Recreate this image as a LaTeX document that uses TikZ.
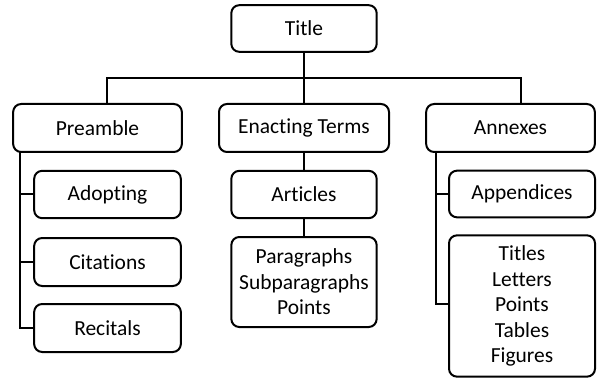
\documentclass[tikz,border=0pt]{standalone}
\usepackage{fontspec}
\setmainfont{Carlito}[Ligatures={NoCommon}]
\tikzset{
  box/.style={draw, line width=1.5pt, rounded corners=6pt, align=center,
    inner sep=0pt, font=\fontsize{16.1pt}{19.2pt}\selectfont},
  link/.style={line width=1.5pt}
}
\begin{document}
\begin{tikzpicture}[x=0.75pt, y=-0.75pt]
\useasboundingbox (0,0) rectangle (597,378);

% top level
\node[box, minimum width=109pt, minimum height=35pt] (title) at (304,28.5) {Title};

% second level
\node[box, minimum width=126.5pt, minimum height=36pt] (preamble) at (97.5,128) {Preamble};
\node[box, minimum width=127.5pt, minimum height=36pt] (enacting) at (304,128) {Enacting Terms};
\node[box, minimum width=126.5pt, minimum height=36pt] (annexes) at (510.5,128) {Annexes};

% preamble parts
\node[box, minimum width=110pt, minimum height=35.5pt] (adopting) at (107.5,194.5) {Adopting};
\node[box, minimum width=110pt, minimum height=36pt] (citations) at (107.5,262) {Citations};
\node[box, minimum width=110pt, minimum height=36pt] (recitals) at (107.5,328) {Recitals};

% enacting terms parts
\node[box, minimum width=109pt, minimum height=35.5pt] (articles) at (304,194.5) {Articles};
\node[box, minimum width=109pt, minimum height=67.5pt] (paragraphs) at (304,282)
  {Paragraphs\\Subparagraphs\\Points};

% annex parts
\node[box, minimum width=109.5pt, minimum height=35pt] (appendices) at (522,194) {Appendices};
\node[box, minimum width=109.5pt, minimum height=106pt] (titles) at (522,306)
  {Titles\\Letters\\Points\\Tables\\Figures};

% bus from the title to the three parts
\coordinate (busL) at (107,78);
\coordinate (busR) at (521,78);
\coordinate (pdrop) at (107,104);
\coordinate (adrop) at (521,104);
\draw[link] (pdrop) -- (busL) -- (busR) -- (adrop);
\draw[link] (title.south) -- (enacting.north);

% preamble spine
\coordinate (pspine) at (20,152);
\draw[link] (pspine) |- (recitals.west);
\draw[link] (pspine |- adopting.west) -- (adopting.west);
\draw[link] (pspine |- citations.west) -- (citations.west);

% enacting terms chain
\draw[link] (enacting.south) -- (articles.north);
\draw[link] (articles.south) -- (paragraphs.north);

% annex spine
\coordinate (aspine) at (436,152);
\coordinate (aend) at (436,304);
\draw[link] (aspine) -- (aend) -- (titles.west |- aend);
\draw[link] (aspine |- appendices.west) -- (appendices.west);
\end{tikzpicture}
\end{document}
